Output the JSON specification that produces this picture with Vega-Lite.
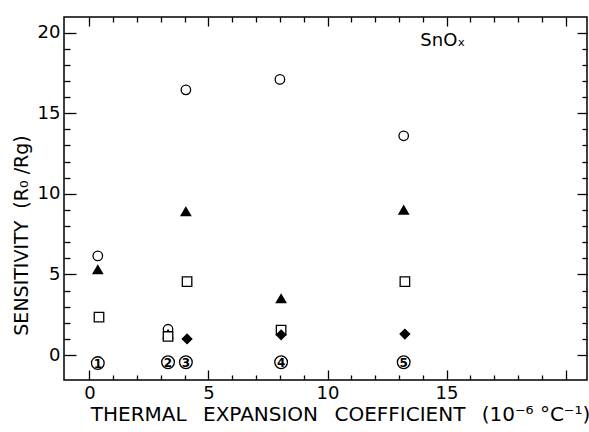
{
  "$schema": "https://vega.github.io/schema/vega-lite/v6.json",
  "width": 523,
  "height": 363,
  "autosize": {"type": "none"},
  "padding": {"left": 64, "top": 17, "right": 2, "bottom": 52},
  "background": "white",
  "config": {
    "view": {"stroke": "black", "strokeWidth": 1.5},
    "font": "DejaVu Sans",
    "axis": {"grid": false, "domain": false, "tickColor": "black", "tickWidth": 1.3, "labelColor": "black", "titleColor": "black", "titleFontWeight": "normal"}
  },
  "datasets": {
    "pts": [
      {"x": 0.35, "y": 6.15, "series": "A"},
      {"x": 3.3, "y": 1.6, "series": "A"},
      {"x": 4.05, "y": 16.45, "series": "A"},
      {"x": 8.0, "y": 17.1, "series": "A"},
      {"x": 13.2, "y": 13.6, "series": "A"},
      {"x": 0.35, "y": 5.3, "series": "B"},
      {"x": 3.3, "y": 1.3, "series": "B"},
      {"x": 4.05, "y": 8.9, "series": "B"},
      {"x": 8.05, "y": 3.5, "series": "B"},
      {"x": 13.2, "y": 9.0, "series": "B"},
      {"x": 0.4, "y": 2.35, "series": "C"},
      {"x": 3.3, "y": 1.15, "series": "C"},
      {"x": 4.1, "y": 4.55, "series": "C"},
      {"x": 8.05, "y": 1.55, "series": "C"},
      {"x": 13.25, "y": 4.55, "series": "C"},
      {"x": 4.1, "y": 1.0, "series": "D"},
      {"x": 8.05, "y": 1.25, "series": "D"},
      {"x": 13.25, "y": 1.3, "series": "D"}
    ],
    "nums": [
      {"x": 0.35, "y": -0.5, "label": "1"},
      {"x": 3.3, "y": -0.45, "label": "2"},
      {"x": 4.05, "y": -0.45, "label": "3"},
      {"x": 8.05, "y": -0.45, "label": "4"},
      {"x": 13.2, "y": -0.45, "label": "5"}
    ],
    "note": [
      {"x": 13.9, "y": 19.5, "label": "SnOₓ"}
    ]
  },
  "layer": [
    {
      "data": {"name": "pts"},
      "mark": {"type": "point", "filled": true, "stroke": "black", "strokeWidth": 1.3, "size": 90, "opacity": 1},
      "encoding": {
        "x": {"field": "x", "type": "quantitative", "scale": {"domain": [-1.07, 20.9], "nice": false, "zero": false},
          "axis": {"orient": "bottom", "values": [0,1,2,3,4,5,6,7,8,9,10,11,12,13,14,15,16,17,18,19,20],
            "tickSize": {"condition": {"test": "datum.value % 5 === 0", "value": -10}, "value": -5},
            "labelExpr": "datum.value % 5 === 0 && datum.value < 20 ? datum.label : ''",
            "labelFontSize": 18, "labelPadding": 14,
            "title": "THERMAL\u2002 EXPANSION\u2002 COEFFICIENT\u2002 (10⁻⁶ °C⁻¹)", "titleFontSize": 20, "titlePadding": 2, "titleX": 276, "titleAlign": "center"}},
        "y": {"field": "y", "type": "quantitative", "scale": {"domain": [-1.55, 20.97], "nice": false, "zero": false},
          "axis": {"orient": "left", "values": [0,1,2,3,4,5,6,7,8,9,10,11,12,13,14,15,16,17,18,19,20],
            "tickSize": {"condition": {"test": "datum.value % 5 === 0", "value": -12}, "value": -6},
            "labelExpr": "datum.value % 5 === 0 ? datum.label : ''",
            "labelFontSize": 18, "labelPadding": 16,
            "title": "SENSITIVITY\u00a0\u00a0(R₀ /Rg)", "titleFontSize": 19, "titlePadding": 6, "titleY": 218}},
        "shape": {"field": "series", "type": "nominal", "scale": {"domain": ["A","B","C","D"], "range": ["circle","triangle-up","square","diamond"]}, "legend": null},
        "fill": {"field": "series", "type": "nominal", "scale": {"domain": ["A","B","C","D"], "range": ["white","black","white","black"]}, "legend": null}
      }
    },
    {
      "data": {"name": "nums"},
      "mark": {"type": "point", "shape": "circle", "size": 160, "stroke": "black", "strokeWidth": 1.3, "fill": "white", "filled": false, "opacity": 1},
      "encoding": {
        "x": {"field": "x", "type": "quantitative",
          "axis": {"orient": "top", "values": [0,1,2,3,4,5,6,7,8,9,10,11,12,13,14,15,16,17,18,19,20],
            "tickSize": {"condition": {"test": "datum.value % 5 === 0", "value": -9}, "value": -5},
            "labels": false, "title": null}},
        "y": {"field": "y", "type": "quantitative",
          "axis": {"orient": "right", "values": [0,1,2,3,4,5,6,7,8,9,10,11,12,13,14,15,16,17,18,19,20],
            "tickSize": {"condition": {"test": "datum.value % 5 === 0", "value": -10}, "value": -5},
            "labels": false, "title": null}}
      }
    },
    {
      "data": {"name": "nums"},
      "mark": {"type": "text", "fontSize": 12, "fontWeight": "bold", "color": "black", "align": "center", "baseline": "middle", "dy": 1},
      "encoding": {
        "x": {"field": "x", "type": "quantitative", "axis": null},
        "y": {"field": "y", "type": "quantitative", "axis": null},
        "text": {"field": "label", "type": "nominal"}
      }
    },
    {
      "data": {"name": "note"},
      "mark": {"type": "text", "fontSize": 18, "color": "black", "align": "left", "baseline": "middle"},
      "encoding": {
        "x": {"field": "x", "type": "quantitative", "axis": null},
        "y": {"field": "y", "type": "quantitative", "axis": null},
        "text": {"field": "label", "type": "nominal"}
      }
    }
  ],
  "resolve": {"axis": {"x": "independent", "y": "independent"}}
}
